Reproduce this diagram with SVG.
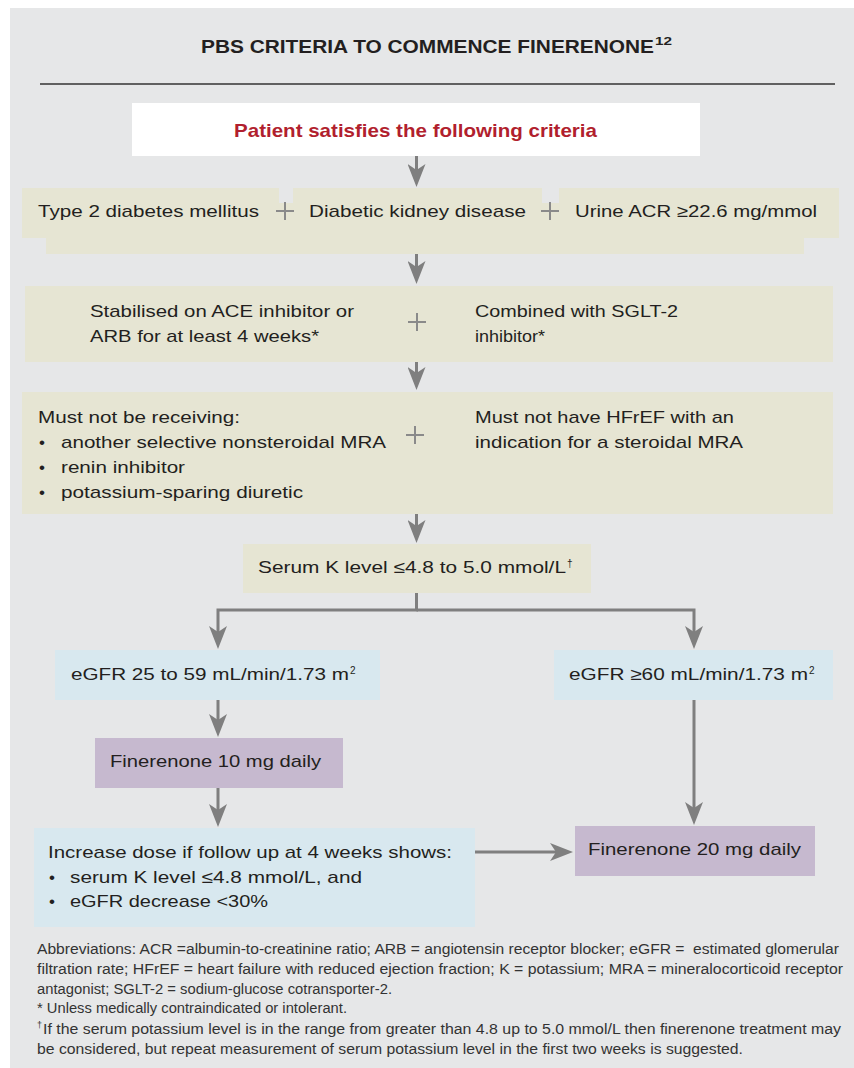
<svg xmlns="http://www.w3.org/2000/svg" width="854" height="1068" viewBox="0 0 854 1068">
<style>
.t{font-family:"Liberation Sans",Arial,sans-serif;font-size:17px;fill:#231f20}
.b{font-weight:bold}
.sup{font-family:"Liberation Sans",Arial,sans-serif;font-size:10px;fill:#231f20}
.fn{font-family:"Liberation Sans",Arial,sans-serif;font-size:14px;fill:#333333}
.beige{fill:#e6e5d3}
.blue{fill:#d8e8ef}
.purple{fill:#c6b9cf}
.conn{fill:none;stroke:#7f7f7f;stroke-width:3;marker-end:url(#ah)}
.plus{stroke:#8a8a8a;stroke-width:2;fill:none}
</style>
<defs>
<marker id="ah" markerUnits="userSpaceOnUse" viewBox="0 0 23 18" refX="13" refY="9" markerWidth="23" markerHeight="18" orient="auto">
<path d="M0,0 L23,9 L0,18 L6,9 Z" fill="#7f7f7f"/>
</marker>
</defs>
<rect x="10" y="8" width="844" height="1060" fill="#e6e7e8"/>
<g id="title">
<text class="t b" x="201" y="53" style="font-size:19px" textLength="453" lengthAdjust="spacingAndGlyphs">PBS CRITERIA TO COMMENCE FINERENONE</text>
<text class="sup b" x="655" y="45" textLength="17" lengthAdjust="spacingAndGlyphs">12</text>
<line x1="40" y1="84" x2="835" y2="84" stroke="#333333" stroke-width="1.5"/>
</g>
<g id="start">
<rect x="132" y="103" width="568" height="53" fill="#ffffff"/>
<text class="t b" x="234" y="137" style="font-size:19px;fill:#b11f2e" textLength="363" lengthAdjust="spacingAndGlyphs">Patient satisfies the following criteria</text>
</g>
<g id="row1">
<rect class="beige" x="46" y="203" width="758" height="51"/>
<rect class="beige" x="22" y="188" width="257" height="50"/>
<rect class="beige" x="293" y="188" width="249" height="50"/>
<rect class="beige" x="559" y="188" width="280" height="50"/>
<text class="t" x="38" y="217" textLength="221" lengthAdjust="spacingAndGlyphs">Type 2 diabetes mellitus</text>
<path class="plus" d="M276,211 H294 M285,202 V220"/>
<text class="t" x="309" y="217" textLength="217" lengthAdjust="spacingAndGlyphs">Diabetic kidney disease</text>
<path class="plus" d="M541,211 H559 M550,202 V220"/>
<text class="t" x="575" y="217" textLength="242" lengthAdjust="spacingAndGlyphs">Urine ACR ≥22.6 mg/mmol</text>
</g>
<g id="row2">
<rect class="beige" x="25" y="286" width="808" height="76"/>
<text class="t" x="90" y="317" textLength="264" lengthAdjust="spacingAndGlyphs">Stabilised on ACE inhibitor or</text>
<text class="t" x="90" y="342" textLength="229" lengthAdjust="spacingAndGlyphs">ARB for at least 4 weeks*</text>
<path class="plus" d="M408,322 H426 M417,313 V331"/>
<text class="t" x="475" y="317" textLength="203" lengthAdjust="spacingAndGlyphs">Combined with SGLT-2</text>
<text class="t" x="475" y="342" textLength="70" lengthAdjust="spacingAndGlyphs">inhibitor*</text>
</g>
<g id="row3">
<rect class="beige" x="22" y="392" width="811" height="122"/>
<text class="t" x="38" y="423" textLength="202" lengthAdjust="spacingAndGlyphs">Must not be receiving:</text>
<text class="t" x="39" y="448">•</text>
<text class="t" x="61" y="448" textLength="325" lengthAdjust="spacingAndGlyphs">another selective nonsteroidal MRA</text>
<text class="t" x="39" y="473">•</text>
<text class="t" x="61" y="473" textLength="124" lengthAdjust="spacingAndGlyphs">renin inhibitor</text>
<text class="t" x="39" y="498">•</text>
<text class="t" x="61" y="498" textLength="242" lengthAdjust="spacingAndGlyphs">potassium-sparing diuretic</text>
<path class="plus" d="M406,435 H424 M415,426 V444"/>
<text class="t" x="475" y="423" textLength="259" lengthAdjust="spacingAndGlyphs">Must not have HFrEF with an</text>
<text class="t" x="475" y="448" textLength="268" lengthAdjust="spacingAndGlyphs">indication for a steroidal MRA</text>
</g>
<g id="serumK">
<rect class="beige" x="243" y="544" width="348" height="49"/>
<text class="t" x="258" y="573" textLength="308" lengthAdjust="spacingAndGlyphs">Serum K level ≤4.8 to 5.0 mmol/L</text>
<text class="sup" x="567" y="567">†</text>
</g>
<g id="egfrLow">
<rect class="blue" x="55" y="650" width="325" height="50"/>
<text class="t" x="71" y="680" textLength="278" lengthAdjust="spacingAndGlyphs">eGFR 25 to 59 mL/min/1.73 m</text>
<text class="sup" x="350" y="674">2</text>
</g>
<g id="egfrHigh">
<rect class="blue" x="554" y="650" width="279" height="50"/>
<text class="t" x="569" y="680" textLength="239" lengthAdjust="spacingAndGlyphs">eGFR ≥60 mL/min/1.73 m</text>
<text class="sup" x="809" y="674">2</text>
</g>
<g id="fin10">
<rect class="purple" x="95" y="738" width="248" height="50"/>
<text class="t" x="110" y="767" textLength="211" lengthAdjust="spacingAndGlyphs">Finerenone 10 mg daily</text>
</g>
<g id="increase">
<rect class="blue" x="34" y="828" width="441" height="99"/>
<text class="t" x="48" y="858" textLength="404" lengthAdjust="spacingAndGlyphs">Increase dose if follow up at 4 weeks shows:</text>
<text class="t" x="49" y="883">•</text>
<text class="t" x="70" y="883" textLength="292" lengthAdjust="spacingAndGlyphs">serum K level ≤4.8 mmol/L, and</text>
<text class="t" x="49" y="907">•</text>
<text class="t" x="70" y="907" textLength="198" lengthAdjust="spacingAndGlyphs">eGFR decrease &lt;30%</text>
</g>
<g id="fin20">
<rect class="purple" x="575" y="826" width="240" height="50"/>
<text class="t" x="588" y="855" textLength="213" lengthAdjust="spacingAndGlyphs">Finerenone 20 mg daily</text>
</g>
<g id="connectors">
<path class="conn" d="M416.5,156 V177"/>
<path class="conn" d="M416.5,254 V274"/>
<path class="conn" d="M416.5,362 V380"/>
<path class="conn" d="M416.5,514 V533"/>
<path class="conn" d="M416.5,593 V610 H218 V639"/>
<path class="conn" d="M416.5,610 H694 V639"/>
<path class="conn" d="M218,700 V727"/>
<path class="conn" d="M218,788 V817"/>
<path class="conn" d="M694,700 V815"/>
<path class="conn" d="M475,852 H563"/>
</g>
<g id="footnotes">
<text class="fn" x="37" y="954" xml:space="preserve" textLength="802" lengthAdjust="spacingAndGlyphs">Abbreviations: ACR =albumin-to-creatinine ratio; ARB = angiotensin receptor blocker; eGFR =  estimated glomerular</text>
<text class="fn" x="37" y="974" textLength="806" lengthAdjust="spacingAndGlyphs">filtration rate; HFrEF = heart failure with reduced ejection fraction; K = potassium; MRA = mineralocorticoid receptor</text>
<text class="fn" x="37" y="994" textLength="355" lengthAdjust="spacingAndGlyphs">antagonist; SGLT-2 = sodium-glucose cotransporter-2.</text>
<text class="fn" x="37" y="1013" textLength="310" lengthAdjust="spacingAndGlyphs">* Unless medically contraindicated or intolerant.</text>
<text class="fn" x="37" y="1028" style="font-size:9px">†</text>
<text class="fn" x="43" y="1034" textLength="798" lengthAdjust="spacingAndGlyphs">If the serum potassium level is in the range from greater than 4.8 up to 5.0 mmol/L then finerenone treatment may</text>
<text class="fn" x="37" y="1054" textLength="706" lengthAdjust="spacingAndGlyphs">be considered, but repeat measurement of serum potassium level in the first two weeks is suggested.</text>
</g>
</svg>
